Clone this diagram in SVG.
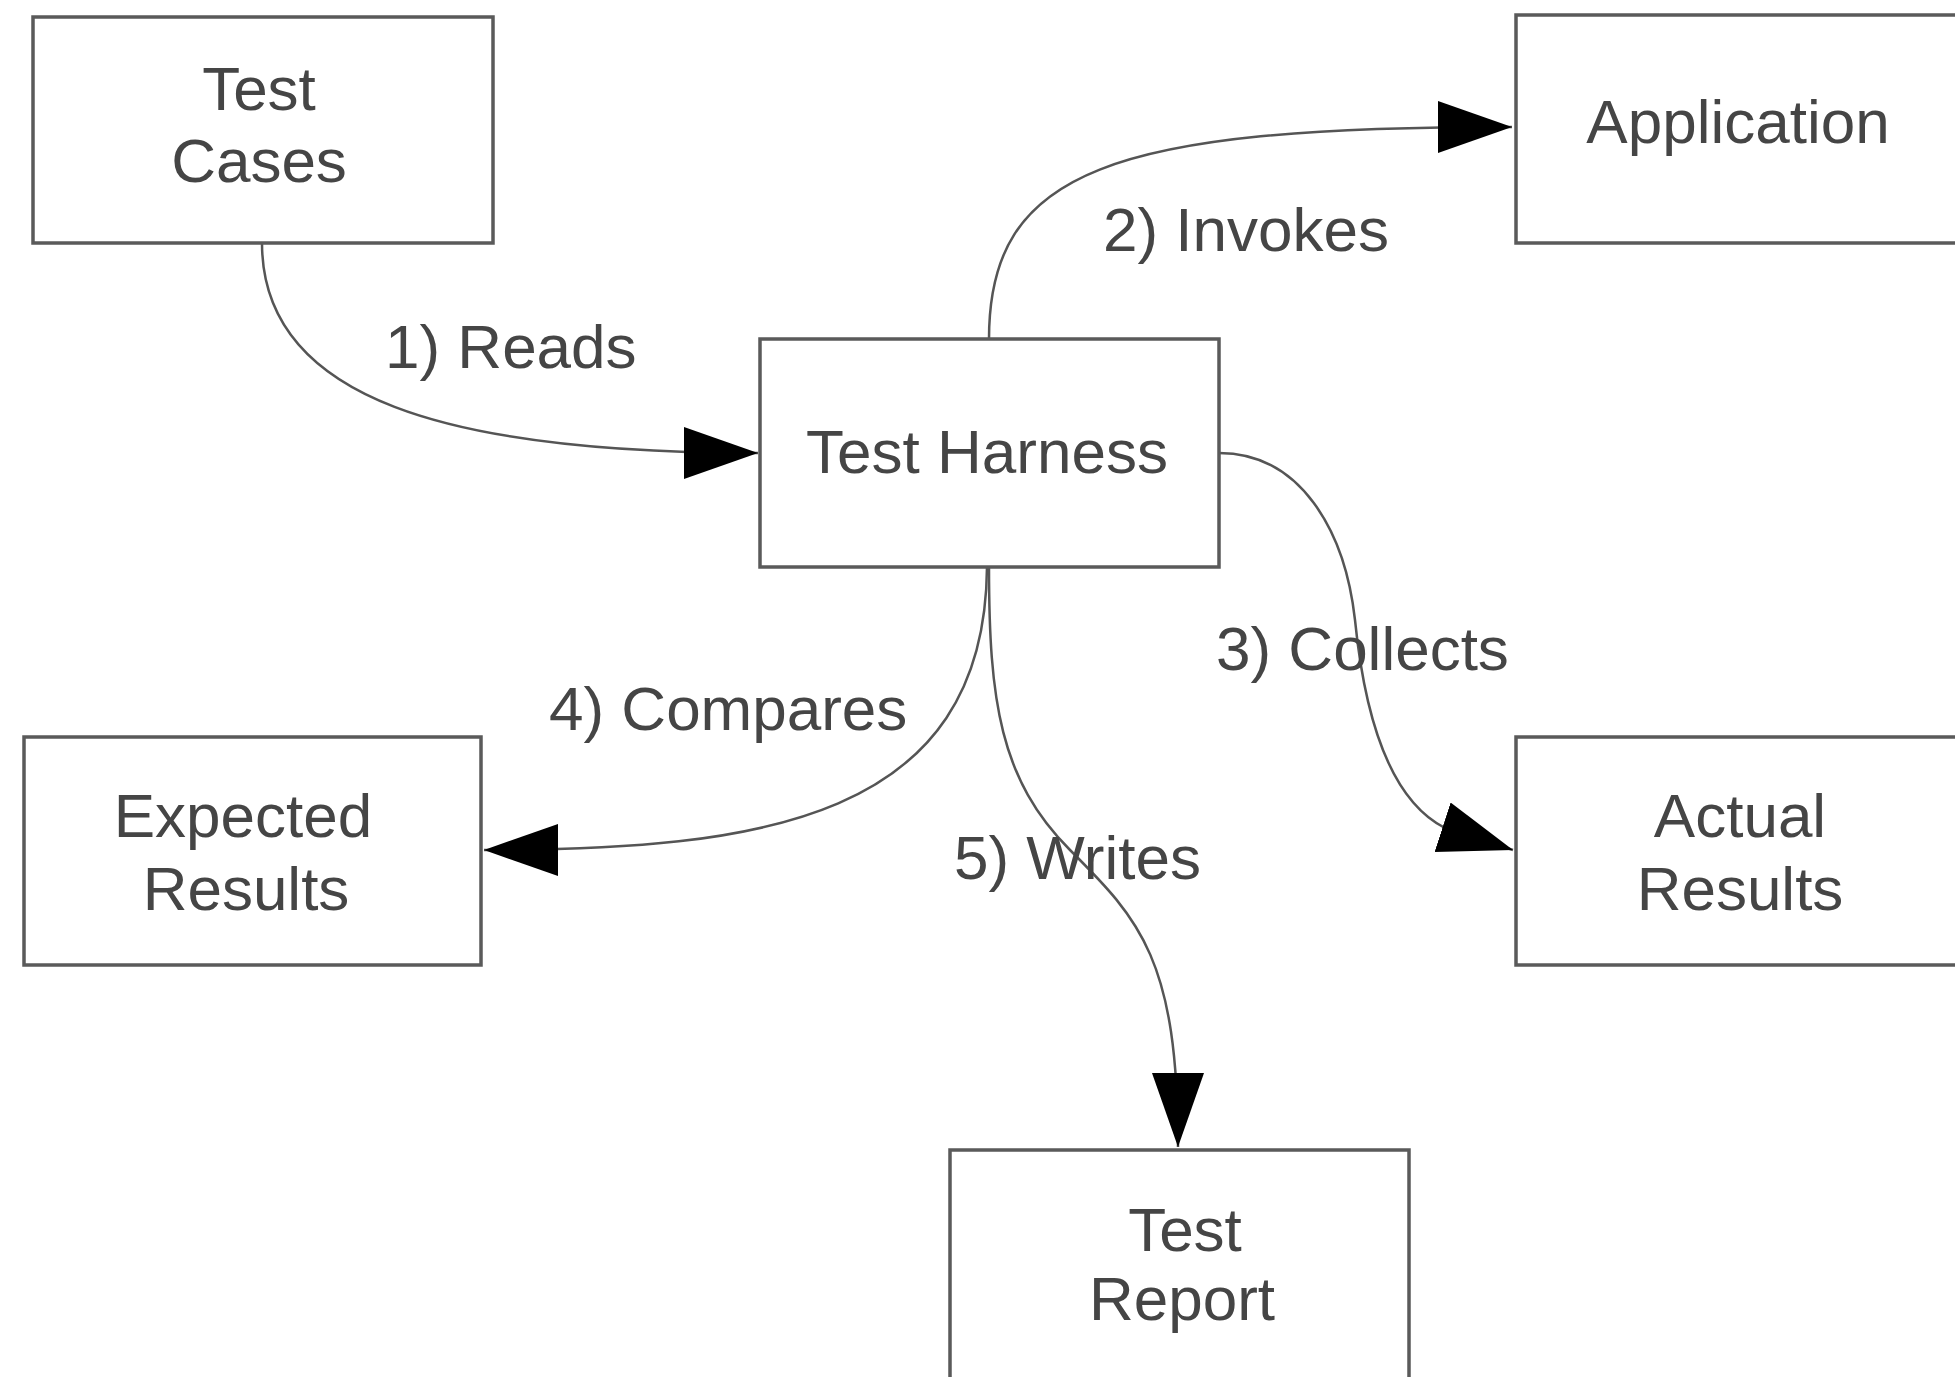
<svg xmlns="http://www.w3.org/2000/svg" width="1955" height="1377" viewBox="0 0 1955 1377">
<style>
.box{fill:#ffffff;stroke:#5a5a5a;stroke-width:3.5}
.lbl{font-family:"Liberation Sans",Arial,sans-serif;font-size:62px;fill:#454545}
.ctr{text-anchor:middle}
.conn{fill:none;stroke:#555555;stroke-width:2.5}
</style>
<defs>
<marker id="arr" markerUnits="userSpaceOnUse" markerWidth="80" markerHeight="60" refX="74" refY="26" orient="auto">
<path d="M0,0 L74,26 L0,52 z" fill="#000000"/>
</marker>
</defs>
<rect width="1955" height="1377" fill="#ffffff"/>
<g id="connectors">
<path class="conn" d="M262,243 C262,400 450,453 758,453" marker-end="url(#arr)"/>
<path class="conn" d="M989,339 C989,170 1110,127 1512,127" marker-end="url(#arr)"/>
<path class="conn" d="M1219,453 C1300,453 1345,530 1355,620 C1365,720 1390,800 1445,828 L1513,850" marker-end="url(#arr)"/>
<path class="conn" d="M987,567 C985,820 760,850 484,850" marker-end="url(#arr)"/>
<path class="conn" d="M989,567 C989,700 1000,780 1070,850 C1140,920 1178,960 1178,1147" marker-end="url(#arr)"/>
<text class="lbl" x="385" y="368">1) Reads</text>
<text class="lbl" x="1103" y="251">2) Invokes</text>
<text class="lbl" x="1216" y="670">3) Collects</text>
<text class="lbl" x="549" y="730">4) Compares</text>
<text class="lbl" x="954" y="879">5) Writes</text>
</g>
<g id="test-cases">
<rect class="box" x="33" y="17" width="460" height="226"/>
<text class="lbl ctr" x="259" y="110">Test</text>
<text class="lbl ctr" x="259" y="182">Cases</text>
</g>
<g id="application">
<rect class="box" x="1516" y="15" width="470" height="228"/>
<text class="lbl ctr" x="1738" y="143">Application</text>
</g>
<g id="test-harness">
<rect class="box" x="760" y="339" width="459" height="228"/>
<text class="lbl ctr" x="987" y="473">Test Harness</text>
</g>
<g id="expected-results">
<rect class="box" x="24" y="737" width="457" height="228"/>
<text class="lbl ctr" x="243" y="837">Expected</text>
<text class="lbl ctr" x="246" y="910">Results</text>
</g>
<g id="actual-results">
<rect class="box" x="1516" y="737" width="470" height="228"/>
<text class="lbl ctr" x="1740" y="837">Actual</text>
<text class="lbl ctr" x="1740" y="910">Results</text>
</g>
<g id="test-report">
<rect class="box" x="950" y="1150" width="459" height="240"/>
<text class="lbl ctr" x="1185" y="1251">Test</text>
<text class="lbl ctr" x="1182" y="1320">Report</text>
</g>
</svg>
